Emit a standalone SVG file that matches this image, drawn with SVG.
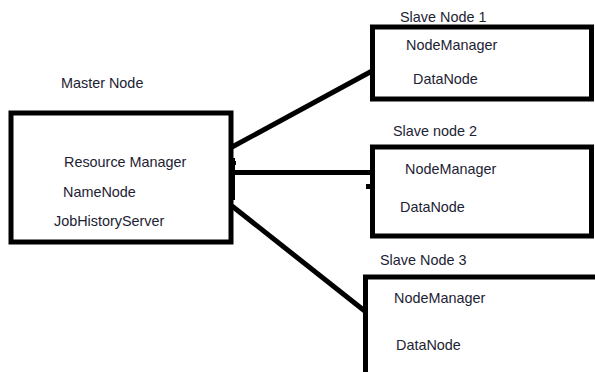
<svg xmlns="http://www.w3.org/2000/svg" width="595" height="372" viewBox="0 0 595 372">
  <style>
    .box { fill: #ffffff; stroke: #000000; stroke-width: 5; }
    .link { stroke: #000000; stroke-width: 5; fill: none; }
    .lbl { font-family: "Liberation Sans", Arial, sans-serif; font-size: 14.4px; fill: #1c2233; }
  </style>
  <rect width="595" height="372" fill="#ffffff"/>

  <!-- connectors between master and slaves -->
  <g id="connectors">
    <line class="link" x1="232" y1="147" x2="372" y2="71"/>
    <line class="link" x1="232" y1="172.5" x2="372" y2="172.5"/>
    <line class="link" x1="232" y1="206" x2="366" y2="312"/>
    <rect x="232" y="161" width="4" height="4" fill="#000"/>
    <rect x="366" y="184" width="4" height="5" fill="#000"/>
  </g>

  <g id="master">
    <text class="lbl" x="61" y="88">Master Node</text>
    <rect class="box" x="11" y="113" width="220" height="129"/>
    <rect x="229" y="158" width="6" height="42" fill="#000"/>
    <text class="lbl" x="64" y="167">Resource Manager</text>
    <text class="lbl" x="63" y="197">NameNode</text>
    <text class="lbl" x="54" y="226">JobHistoryServer</text>
  </g>

  <g id="slave1">
    <rect class="box" x="372.5" y="27" width="219" height="72"/>
    <text class="lbl" x="400" y="22">Slave Node 1</text>
    <text class="lbl" x="406" y="50">NodeManager</text>
    <text class="lbl" x="413" y="84">DataNode</text>
  </g>

  <g id="slave2">
    <text class="lbl" x="393" y="136">Slave node 2</text>
    <rect class="box" x="372.5" y="147" width="219" height="89"/>
    <text class="lbl" x="405" y="174">NodeManager</text>
    <text class="lbl" x="400" y="212">DataNode</text>
  </g>

  <g id="slave3">
    <text class="lbl" x="380" y="265">Slave Node 3</text>
    <rect class="box" x="365.5" y="277" width="240" height="110"/>
    <text class="lbl" x="394" y="303">NodeManager</text>
    <text class="lbl" x="396" y="350">DataNode</text>
  </g>
</svg>
